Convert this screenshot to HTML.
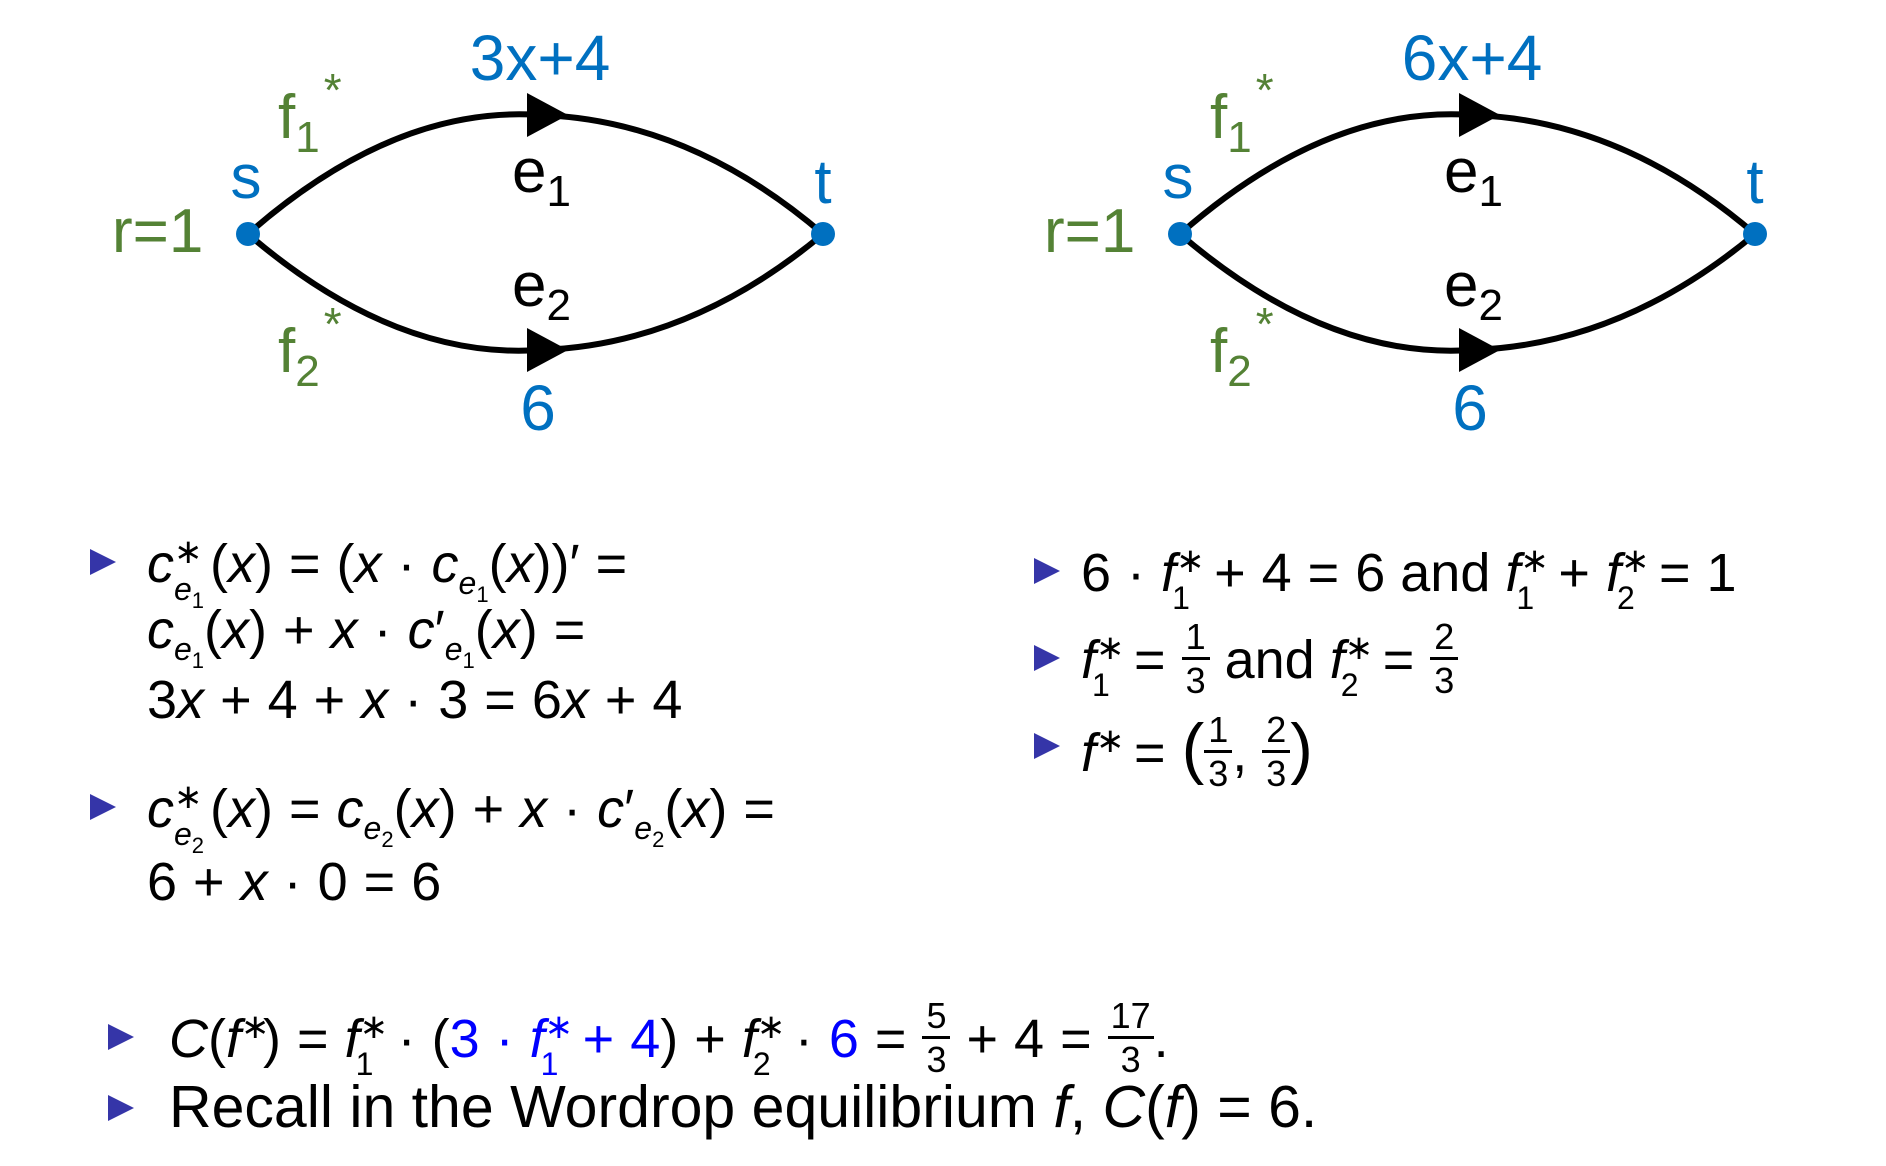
<!DOCTYPE html>
<html><head><meta charset="utf-8"><style>
body{margin:0;width:1886px;height:1166px;background:#fff;overflow:hidden;position:relative;font-family:"Liberation Sans",sans-serif;}
.l{position:absolute;white-space:nowrap;font-size:54px;line-height:54px;color:#000;}
i{font-style:italic;}
.o{margin:0 1px;}
.sub{font-size:32px;vertical-align:-12px;}
.sub2{font-size:22px;vertical-align:-8px;}
.ss{display:inline-block;position:relative;height:1px;width:22px;}
.ss.w{width:36px;}
.ss span.t{position:absolute;left:0;top:-46px;font-size:34px;line-height:34px;}
.ss span.d{position:absolute;left:0;top:-8px;font-size:32px;line-height:32px;}
.ss span.d.f{left:-4px}
.fr{display:inline-block;position:relative;height:1px;width:28px;font-size:36px;line-height:36px;}
.fr.w{width:46px}
.fr span{position:absolute;left:0;right:0;text-align:center;}
.fr .n{top:-58px;}
.fr .bar{top:-20px;height:3px;background:#000;}
.fr .dn{top:-14px;}
.tri{position:absolute;width:0;height:0;border-top:13px solid transparent;border-bottom:13px solid transparent;border-left:26px solid #3535a8;}
.b{color:#0000ff;}
</style></head><body>
<svg width="1886" height="460" style="position:absolute;left:0;top:0" font-family="Liberation Sans, sans-serif">
<g>
<path d="M248 234 Q395 105 540 115 Q690 120 823 234" fill="none" stroke="#000" stroke-width="6"/>
<path d="M248 234 Q395 360 540 350 Q690 345 823 234" fill="none" stroke="#000" stroke-width="6"/>
<polygon points="527,93 568,115 527,137" fill="#000"/>
<polygon points="527,328 568,350 527,372" fill="#000"/>
<circle cx="248" cy="234" r="12" fill="#0070c0"/>
<circle cx="823" cy="234" r="12" fill="#0070c0"/>
<text x="540" y="80" font-size="64" fill="#0070c0" text-anchor="middle">3x+4</text>
<text x="538" y="430" font-size="64" fill="#0070c0" text-anchor="middle">6</text>
<text x="246" y="198" font-size="62" fill="#0070c0" text-anchor="middle">s</text>
<text x="823" y="203" font-size="62" fill="#0070c0" text-anchor="middle">t</text>
<text x="112" y="252" font-size="62" fill="#548235">r=1</text>
<text x="278" y="138" font-size="62" fill="#548235">f<tspan font-size="44" dy="14">1</tspan><tspan font-size="46" dy="-46" dx="4">*</tspan></text>
<text x="278" y="372" font-size="62" fill="#548235">f<tspan font-size="44" dy="14">2</tspan><tspan font-size="46" dy="-46" dx="4">*</tspan></text>
<text x="512" y="192" font-size="62" fill="#000">e<tspan font-size="44" dy="14">1</tspan></text>
<text x="512" y="306" font-size="62" fill="#000">e<tspan font-size="44" dy="14">2</tspan></text>
</g>
<g transform="translate(932,0)">
<path d="M248 234 Q395 105 540 115 Q690 120 823 234" fill="none" stroke="#000" stroke-width="6"/>
<path d="M248 234 Q395 360 540 350 Q690 345 823 234" fill="none" stroke="#000" stroke-width="6"/>
<polygon points="527,93 568,115 527,137" fill="#000"/>
<polygon points="527,328 568,350 527,372" fill="#000"/>
<circle cx="248" cy="234" r="12" fill="#0070c0"/>
<circle cx="823" cy="234" r="12" fill="#0070c0"/>
<text x="540" y="80" font-size="64" fill="#0070c0" text-anchor="middle">6x+4</text>
<text x="538" y="430" font-size="64" fill="#0070c0" text-anchor="middle">6</text>
<text x="246" y="198" font-size="62" fill="#0070c0" text-anchor="middle">s</text>
<text x="823" y="203" font-size="62" fill="#0070c0" text-anchor="middle">t</text>
<text x="112" y="252" font-size="62" fill="#548235">r=1</text>
<text x="278" y="138" font-size="62" fill="#548235">f<tspan font-size="44" dy="14">1</tspan><tspan font-size="46" dy="-46" dx="4">*</tspan></text>
<text x="278" y="372" font-size="62" fill="#548235">f<tspan font-size="44" dy="14">2</tspan><tspan font-size="46" dy="-46" dx="4">*</tspan></text>
<text x="512" y="192" font-size="62" fill="#000">e<tspan font-size="44" dy="14">1</tspan></text>
<text x="512" y="306" font-size="62" fill="#000">e<tspan font-size="44" dy="14">2</tspan></text>
</g>
</svg>

<div class="tri" style="left:90px;top:549px"></div>
<div class="l" style="left:147px;top:537px"><i>c</i><span class="ss w"><span class="t">∗</span><span class="d"><i>e</i><span class="sub2">1</span></span></span>(<i>x</i>) <span class="o">=</span> (<i>x</i> <span class="o">·</span> <i>c</i><span class="sub"><i>e</i><span class="sub2">1</span></span>(<i>x</i>))′ <span class="o">=</span></div>
<div class="l" style="left:147px;top:603px"><i>c</i><span class="sub"><i>e</i><span class="sub2">1</span></span>(<i>x</i>) <span class="o">+</span> <i>x</i> <span class="o">·</span> <i>c</i>′<span class="sub"><i>e</i><span class="sub2">1</span></span>(<i>x</i>) <span class="o">=</span></div>
<div class="l" style="left:147px;top:673px">3<i>x</i> <span class="o">+</span> 4 <span class="o">+</span> <i>x</i> <span class="o">·</span> 3 <span class="o">=</span> 6<i>x</i> <span class="o">+</span> 4</div>

<div class="tri" style="left:90px;top:794px"></div>
<div class="l" style="left:147px;top:782px"><i>c</i><span class="ss w"><span class="t">∗</span><span class="d"><i>e</i><span class="sub2">2</span></span></span>(<i>x</i>) <span class="o">=</span> <i>c</i><span class="sub"><i>e</i><span class="sub2">2</span></span>(<i>x</i>) <span class="o">+</span> <i>x</i> <span class="o">·</span> <i>c</i>′<span class="sub"><i>e</i><span class="sub2">2</span></span>(<i>x</i>) <span class="o">=</span></div>
<div class="l" style="left:147px;top:855px">6 <span class="o">+</span> <i>x</i> <span class="o">·</span> 0 <span class="o">=</span> 6</div>

<div class="tri" style="left:1034px;top:558px"></div>
<div class="l" style="left:1081px;top:546px">6 <span class="o">·</span> <i>f</i><span class="ss"><span class="t">∗</span><span class="d f">1</span></span> <span class="o">+</span> 4 <span class="o">=</span> 6 and <i>f</i><span class="ss"><span class="t">∗</span><span class="d f">1</span></span> <span class="o">+</span> <i>f</i><span class="ss"><span class="t">∗</span><span class="d f">2</span></span> <span class="o">=</span> 1</div>
<div class="tri" style="left:1034px;top:645px"></div>
<div class="l" style="left:1081px;top:633px"><i>f</i><span class="ss"><span class="t">∗</span><span class="d f">1</span></span> <span class="o">=</span> <span class="fr"><span class="n">1</span><span class="bar"></span><span class="dn">3</span></span> and <i>f</i><span class="ss"><span class="t">∗</span><span class="d f">2</span></span> <span class="o">=</span> <span class="fr"><span class="n">2</span><span class="bar"></span><span class="dn">3</span></span></div>
<div class="tri" style="left:1034px;top:733px"></div>
<div class="l" style="left:1081px;top:721px"><i>f</i><span class="ss"><span class="t">∗</span></span> <span class="o">=</span> <span style="font-size:68px;line-height:54px">(</span><span class="fr"><span class="n">1</span><span class="bar"></span><span class="dn">3</span></span>, <span class="fr"><span class="n">2</span><span class="bar"></span><span class="dn">3</span></span><span style="font-size:68px;line-height:54px">)</span></div>

<div class="tri" style="left:108px;top:1024px"></div>
<div class="l" style="left:169px;top:1012px"><i>C</i>(<i>f</i><span class="ss"><span class="t">∗</span></span>) <span class="o">=</span> <i>f</i><span class="ss"><span class="t">∗</span><span class="d f">1</span></span> <span class="o">·</span> (<span class="b">3 <span class="o">·</span> <i>f</i><span class="ss"><span class="t">∗</span><span class="d f">1</span></span> <span class="o">+</span> 4</span>) <span class="o">+</span> <i>f</i><span class="ss"><span class="t">∗</span><span class="d f">2</span></span> <span class="o">·</span> <span class="b">6</span> <span class="o">=</span> <span class="fr"><span class="n">5</span><span class="bar"></span><span class="dn">3</span></span> <span class="o">+</span> 4 <span class="o">=</span> <span class="fr w"><span class="n">17</span><span class="bar"></span><span class="dn">3</span></span>.</div>
<div class="tri" style="left:108px;top:1095px"></div>
<div class="l" style="left:169px;top:1078px;font-size:59px;line-height:59px">Recall in the Wordrop equilibrium <i>f</i>, <i>C</i>(<i>f</i>) = 6.</div>
</body></html>
